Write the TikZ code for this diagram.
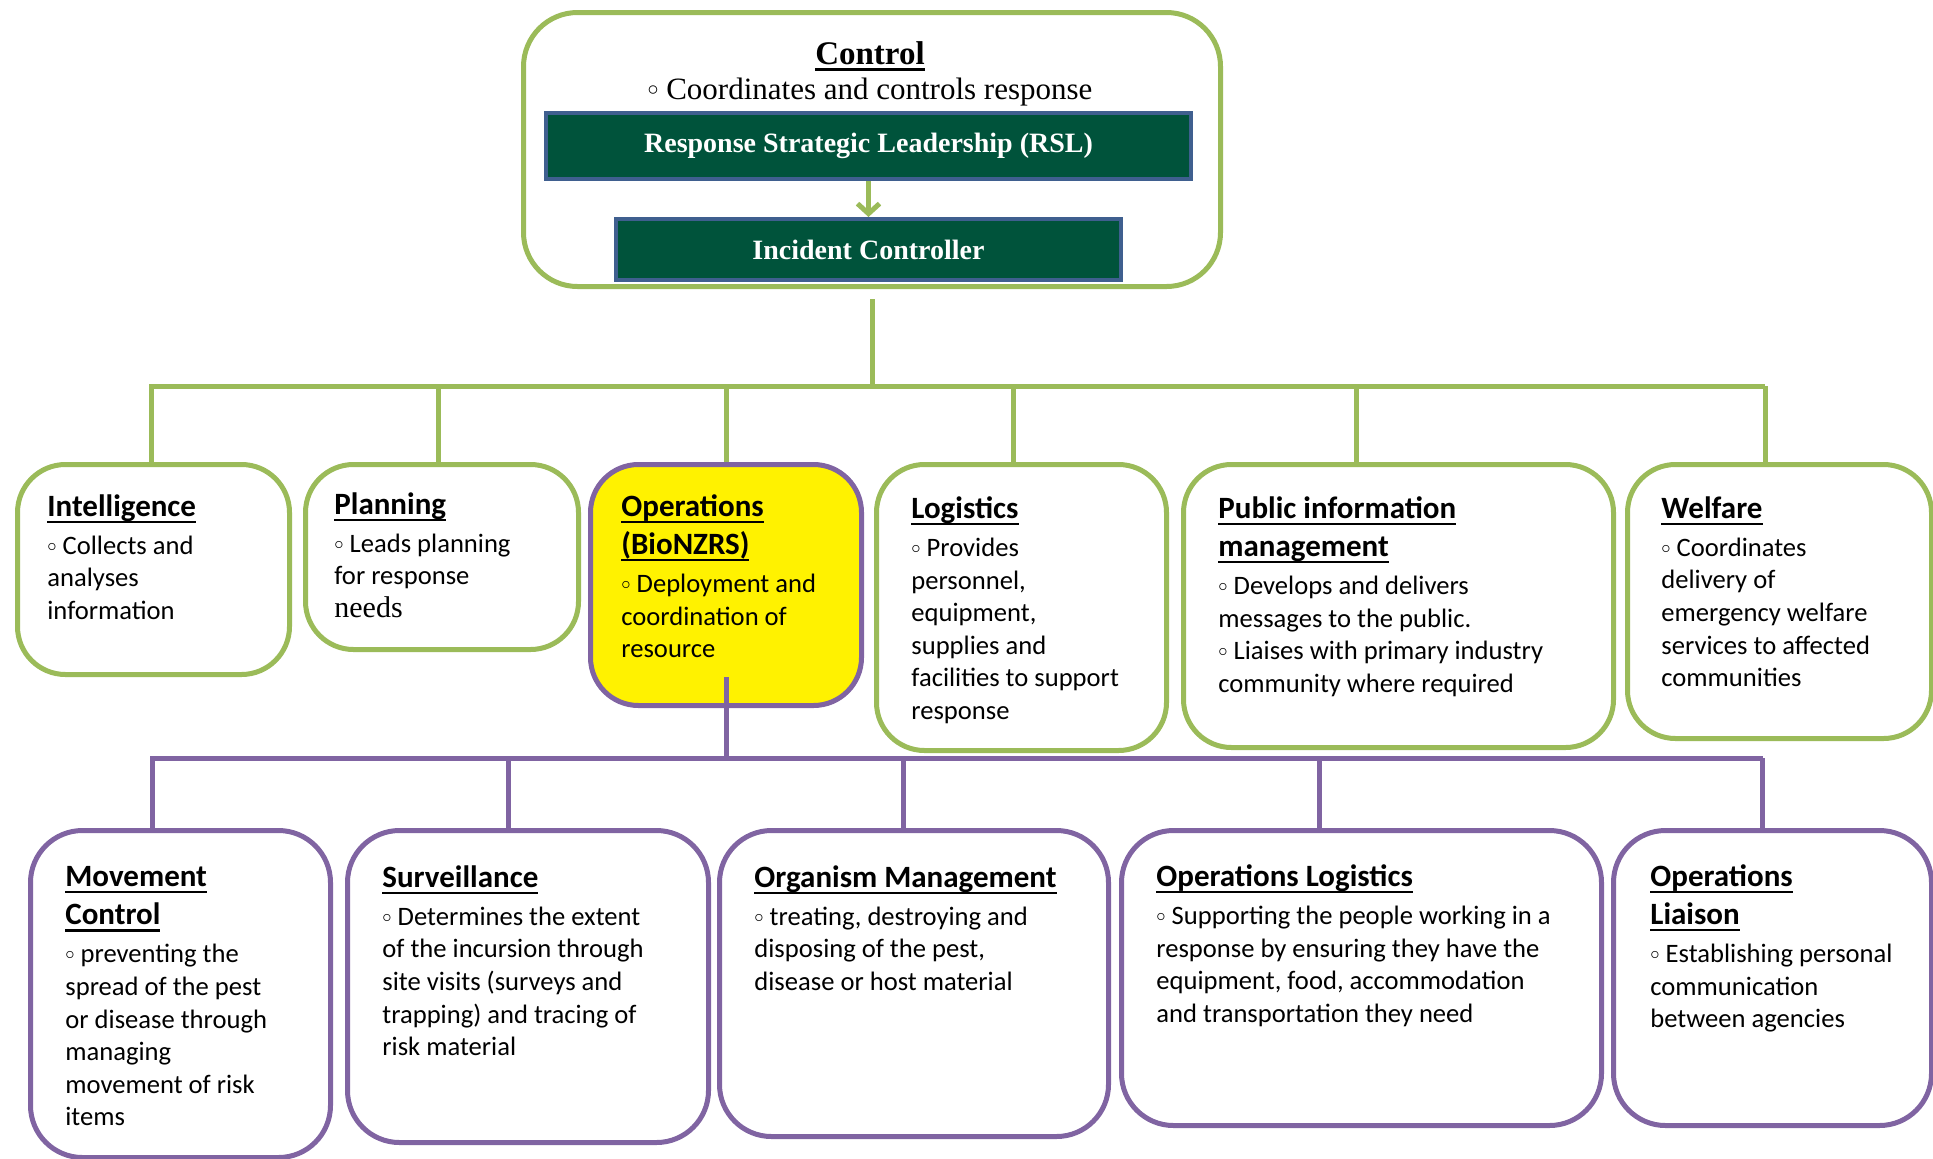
\documentclass[tikz,border=0pt]{standalone}
\usepackage{fontspec}
\setmainfont{Carlito}
\newfontfamily\hdfont{Liberation Serif}
\usepackage{tikz}
\usetikzlibrary{arrows.meta}

\definecolor{leafgreen}{HTML}{9BBB59}
\definecolor{opspurple}{HTML}{8064A2}
\definecolor{rslgreen}{HTML}{00533B}
\definecolor{rslblue}{HTML}{3F5F8F}

\newsavebox{\ulbox}
\newcommand{\ulin}[1]{\sbox{\ulbox}{#1}\rlap{\rule[-3.4pt]{\wd\ulbox}{1.2pt}}\usebox{\ulbox}}
\newcommand{\bul}{\raisebox{0.25ex}{$\scriptstyle\circ$}\ }
\newcommand{\ttl}[1]{{\fontsize{15.5}{19}\selectfont\bfseries\ulin{#1}}}

\tikzset{
  gbox/.style={draw=leafgreen, line width=2.5pt, rounded corners=24pt, fill=white, anchor=north west, inner sep=0pt},
  pbox/.style={gbox, draw=opspurple, rounded corners=26pt},
  rslbox/.style={draw=rslblue, line width=2pt, fill=rslgreen, text=white, inner sep=0pt, font=\hdfont\bfseries\fontsize{14}{16}\selectfont},
  hd/.style={inner sep=0pt, font=\hdfont\fontsize{15.5}{18}\selectfont},
  txt/.style={anchor=north west, align=left, inner sep=0pt, font=\fontsize{13.3}{16.3}\selectfont},
  gline/.style={leafgreen, line width=2.5pt},
  pline/.style={opspurple, line width=2.5pt}
}

\begin{document}
\begin{tikzpicture}[x=0.5pt, y=-0.5pt]
  \path[use as bounding box] (0,0) rectangle (1933,1158);

  %% control block at the top
  \node[gbox, rounded corners=27pt, minimum width=348.5pt, minimum height=137pt] (ctrl) at (521,10) {};
  \node[hd, anchor=base] (ctrl-ttl) at (870,64) {\fontsize{16.5}{18}\selectfont\bfseries\ulin{Control}};
  \node[hd, anchor=base] (ctrl-sub) at (870,99) {\bul Coordinates and controls response};
  \node[rslbox, minimum width=322.5pt, minimum height=33pt] (rsl) at (868.5,146) {Response Strategic Leadership (RSL)};
  \node[rslbox, minimum width=252.5pt, minimum height=30.5pt] (ic) at (868.5,249.5) {Incident Controller};
  \draw[gline, -{Straight Barb[length=5pt,width=11pt]}] (rsl.south) -- (ic.north);

  %% first row: function boxes
  \node[gbox, minimum width=136pt,   minimum height=105pt]   (intel) at (15,462) {};
  \node[gbox, minimum width=136.5pt, minimum height=92.5pt]  (plan)  at (303,462) {};
  \node[gbox, draw=opspurple, fill=yellow, minimum width=135.5pt, minimum height=120.5pt] (ops) at (588,462) {};
  \node[gbox, minimum width=145pt,   minimum height=143pt]   (logi)  at (874,462) {};
  \node[gbox, minimum width=215pt,   minimum height=141.5pt] (pim)   at (1181,462) {};
  \node[gbox, minimum width=152pt,   minimum height=137pt]   (welf)  at (1625,462) {};

  \node[txt] (intel-t) at ([shift={(32,32)}]intel.north west)
    {\ttl{Intelligence}\\[2.8pt] \bul Collects and\\ analyses\\ information};
  \node[txt] (plan-t) at ([shift={(31,30)}]plan.north west)
    {\ttl{Planning}\\[2.8pt] \bul Leads planning\\ for response\\ {\hdfont\fontsize{15}{16}\selectfont needs}};
  \node[txt] (ops-t) at ([shift={(33,32)}]ops.north west)
    {\ttl{Operations}\\[2.8pt] \ttl{(BioNZRS)}\\[2.8pt] \bul Deployment and\\ coordination of\\ resource};
  \node[txt] (logi-t) at ([shift={(37,34)}]logi.north west)
    {\ttl{Logistics}\\[2.8pt] \bul Provides\\ personnel,\\ equipment,\\ supplies and\\ facilities to support\\ response};
  \node[txt] (pim-t) at ([shift={(37,34)}]pim.north west)
    {\ttl{Public information}\\[2.8pt] \ttl{management}\\[2.8pt] \bul Develops and delivers\\ messages to the public.\\ \bul Liaises with primary industry\\ community where required};
  \node[txt] (welf-t) at ([shift={(36,34)}]welf.north west)
    {\ttl{Welfare}\\[2.8pt] \bul Coordinates\\ delivery of\\ emergency welfare\\ services to affected\\ communities};

  %% second row: operations sub-functions
  \node[pbox, minimum width=150pt,   minimum height=163.5pt] (move)  at (28,828) {};
  \node[pbox, minimum width=180.5pt, minimum height=156pt]   (surv)  at (345,828) {};
  \node[pbox, minimum width=194.5pt, minimum height=153pt]   (orgm)  at (717,828) {};
  \node[pbox, minimum width=240pt,   minimum height=147.5pt] (opslog) at (1119,828) {};
  \node[pbox, minimum width=159pt,   minimum height=147.5pt] (liais) at (1611,828) {};

  \node[txt] (move-t) at ([shift={(37,38)}]move.north west)
    {\ttl{Movement}\\[2.8pt] \ttl{Control}\\[2.8pt] \bul preventing the\\ spread of the pest\\ or disease through\\ managing\\ movement of risk\\ items};
  \node[txt] (surv-t) at ([shift={(37,37)}]surv.north west)
    {\ttl{Surveillance}\\[2.8pt] \bul Determines the extent\\ of the incursion through\\ site visits (surveys and\\ trapping) and tracing of\\ risk material};
  \node[txt] (orgm-t) at ([shift={(37,37)}]orgm.north west)
    {\ttl{Organism Management}\\[2.8pt] \bul treating, destroying and\\ disposing of the pest,\\ disease or host material};
  \node[txt] (opslog-t) at ([shift={(37,36)}]opslog.north west)
    {\ttl{Operations Logistics}\\[2.8pt] \bul Supporting the people working in a\\ response by ensuring they have the\\ equipment, food, accommodation\\ and transportation they need};
  \node[txt] (liais-t) at ([shift={(39,36)}]liais.north west)
    {\ttl{Operations}\\[2.8pt] \ttl{Liaison}\\[2.8pt] \bul Establishing personal\\ communication\\ between agencies};

  %% green tree from control
  \coordinate (gbusL) at (149,386);
  \coordinate (gbusR) at (1765,386);
  \draw[gline] ([shift={(0,10)}]ctrl.south) -- (ctrl.south |- gbusL);
  \draw[gline] (gbusL) -- (gbusR);
  \foreach \b/\dx in {intel/-2, plan/-4, ops/0, logi/-8, pim/-42, welf/-14}{
    \draw[gline] ([shift={(\dx,0)}]\b.north |- gbusL) -- ([shift={(\dx,0)}]\b.north); % drop to each box
  }

  %% purple tree from operations
  \coordinate (pbusL) at (150,758);
  \coordinate (pbusR) at (1763,758);
  \draw[pline] ([shift={(0,-31)}]ops.south) -- (ops.south |- pbusL);
  \draw[pline] (pbusL) -- (pbusR);
  \foreach \b/\dx in {move/-28, surv/-20, orgm/-11, opslog/-42, liais/-10}{
    \draw[pline] ([shift={(\dx,0)}]\b.north |- pbusL) -- ([shift={(\dx,0)}]\b.north);
  }
\end{tikzpicture}
\end{document}
